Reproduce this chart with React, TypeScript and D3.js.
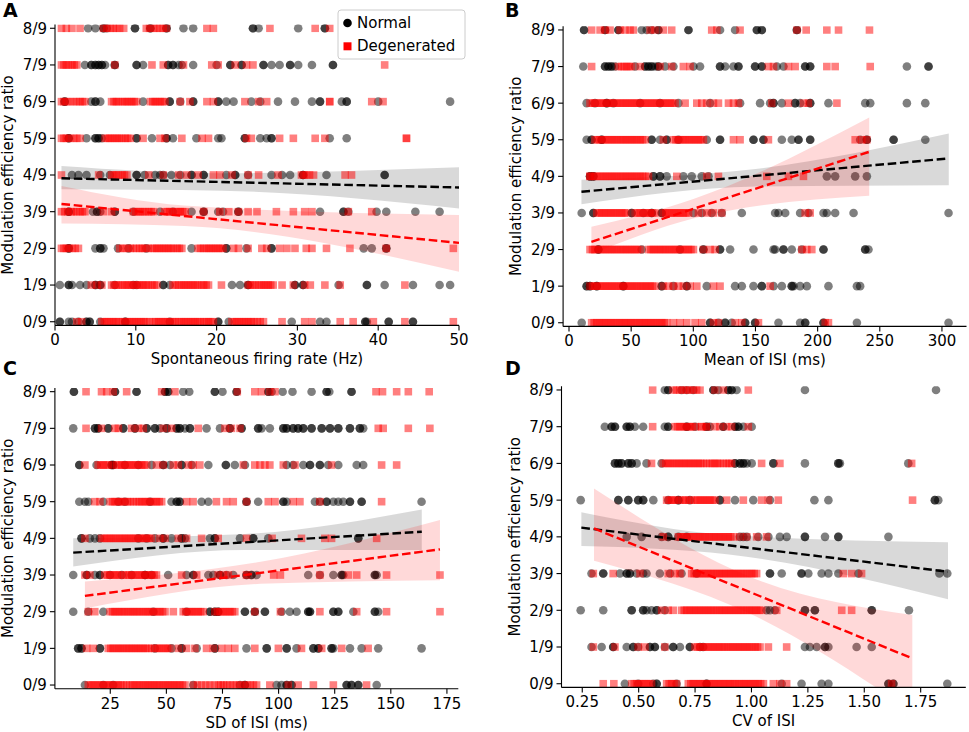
import * as d3 from "d3";

const FONT = "DejaVu Sans, Verdana, sans-serif";
const rowLabels = ["0/9", "1/9", "2/9", "3/9", "4/9", "5/9", "6/9", "7/9", "8/9"];

// ---- panel A: spontaneous firing rate (Hz), one array per ratio row 0/9 .. 8/9
const rateNormal: number[][] = [
  [0.6, 0.6, 1.7, 2.1, 2.9, 3.9, 3.9, 4.3, 4.3, 5.6, 8.7, 8.7, 14.2, 20.2, 20.2, 21.5, 29.3, 32.8, 33.6, 38.4, 38.4, 38.6, 41.3, 41.3, 44.3, 44.3],
  [0.6, 1.7, 1.7, 2.1, 3.1, 3.9, 5.0, 5.0, 5.6, 5.6, 7.4, 9.7, 10.1, 13.4, 13.4, 14.2, 21.9, 22.9, 23.9, 23.9, 29.7, 29.7, 30.7, 30.7, 35.1, 38.6, 38.6, 40.8, 44.3, 47.6, 48.9],
  [1.7, 1.7, 5.0, 5.6, 5.6, 6.0, 7.8, 9.1, 11.3, 16.9, 21.2, 21.2, 23.7, 26.8, 26.8, 38.2, 39.2, 41.0, 41.0],
  [1.7, 1.7, 4.7, 5.2, 5.2, 5.6, 7.4, 7.4, 9.7, 13.0, 14.6, 16.9, 18.4, 18.4, 20.2, 20.8, 22.7, 22.7, 32.8, 35.7, 35.7, 36.3, 39.8, 41.0, 44.6, 47.6],
  [2.1, 2.9, 3.9, 5.6, 6.8, 10.1, 10.1, 11.1, 12.4, 13.0, 13.4, 14.4, 15.5, 16.9, 16.9, 18.4, 18.4, 21.2, 22.3, 22.3, 23.9, 26.8, 28.1, 29.1, 30.7, 30.7, 33.6, 40.8, 40.8],
  [1.7, 1.7, 3.9, 5.0, 5.0, 5.4, 5.4, 5.8, 10.1, 10.1, 12.0, 13.8, 13.8, 14.6, 17.5, 20.2, 20.6, 23.5, 23.5, 25.4, 26.2, 26.8, 26.8, 34.0, 36.1],
  [1.2, 1.2, 4.5, 5.0, 5.0, 5.6, 10.9, 14.2, 14.2, 15.5, 17.1, 17.1, 20.2, 20.2, 21.2, 22.1, 24.3, 25.4, 27.6, 29.7, 31.8, 32.8, 32.8, 35.5, 36.1, 36.1, 40.0, 48.9],
  [3.7, 4.5, 4.5, 5.0, 5.0, 5.4, 5.4, 5.8, 5.8, 6.2, 7.4, 7.4, 10.1, 10.1, 10.9, 14.0, 14.0, 14.6, 14.6, 15.3, 15.7, 17.1, 20.0, 21.7, 21.7, 23.1, 23.1, 25.8, 25.8, 26.8, 27.8, 29.1, 29.1, 30.1, 31.8, 34.4, 34.4],
  [4.1, 5.0, 6.0, 6.0, 6.4, 9.9, 9.9, 11.8, 11.8, 13.8, 13.8, 15.9, 17.1, 24.5, 24.5, 25.2, 30.1, 33.4, 33.4],
];
const rateDegen: number[][] = [
  [2.7, 3.3, 5.8, 6.1, 6.4, 6.7, 7.0, 7.3, 7.6, 7.9, 8.3, 8.6, 8.9, 9.2, 9.5, 9.8, 10.1, 10.4, 10.7, 11.0, 11.3, 11.7, 12.2, 12.5, 12.8, 13.1, 13.4, 13.7, 14.0, 14.3, 14.6, 14.9, 15.3, 15.6, 15.9, 16.2, 16.5, 16.8, 17.1, 17.4, 17.7, 18.0, 18.4, 18.7, 19.0, 19.3, 19.6, 21.9, 22.2, 22.5, 22.8, 23.1, 23.4, 23.7, 24.0, 24.3, 24.6, 25.0, 25.4, 25.8, 28.1, 30.9, 31.8, 35.3, 36.9, 39.4, 43.3, 49.3],
  [4.5, 5.2, 5.8, 7.0, 7.3, 7.6, 7.9, 8.3, 8.6, 8.9, 9.2, 9.5, 9.8, 10.1, 10.4, 10.7, 11.0, 11.3, 11.6, 12.0, 12.3, 12.6, 14.6, 14.9, 15.3, 15.6, 15.9, 16.2, 16.5, 16.8, 17.1, 17.4, 17.7, 18.1, 18.4, 18.7, 19.0, 20.6, 23.9, 24.2, 24.5, 24.8, 25.2, 25.5, 25.8, 26.1, 26.4, 26.7, 27.0, 28.1, 29.5, 30.9, 31.6, 33.4, 35.3, 43.3],
  [0.8, 1.1, 1.4, 1.7, 2.1, 2.5, 2.9, 8.0, 8.4, 8.9, 9.3, 9.7, 10.1, 10.5, 10.8, 11.1, 11.5, 12.0, 12.3, 12.6, 12.9, 13.2, 13.5, 13.8, 14.1, 14.4, 14.7, 15.1, 15.4, 15.7, 17.7, 18.0, 18.4, 18.7, 19.0, 19.3, 19.6, 19.9, 20.2, 20.5, 20.8, 22.1, 22.7, 23.9, 25.6, 26.2, 27.8, 28.7, 29.7, 31.1, 31.8, 33.6, 36.5, 41.0, 49.3],
  [0.8, 1.2, 1.6, 2.0, 2.3, 2.7, 3.1, 3.4, 3.7, 6.0, 7.0, 9.7, 10.0, 10.3, 10.6, 10.9, 11.2, 11.6, 11.9, 12.2, 13.6, 13.9, 14.2, 14.5, 14.9, 15.2, 15.5, 15.8, 16.1, 18.4, 20.4, 21.5, 22.7, 23.9, 25.0, 27.4, 29.5, 30.9, 31.8, 36.3, 39.2],
  [0.8, 5.4, 7.0, 7.3, 7.6, 7.9, 8.3, 8.6, 8.9, 11.6, 13.4, 15.3, 16.3, 17.7, 19.6, 20.4, 21.9, 23.9, 25.2, 27.6, 30.5, 30.8, 31.1, 31.5, 32.0, 35.9, 36.7],
  [0.8, 1.1, 1.4, 1.8, 2.3, 2.7, 3.1, 6.2, 6.5, 6.8, 7.1, 7.4, 7.7, 8.0, 8.3, 8.7, 9.0, 9.3, 10.9, 13.0, 13.6, 15.7, 18.2, 19.0, 23.7, 24.3, 27.8, 29.5, 32.2, 33.4, 43.5, 43.5],
  [0.8, 1.1, 1.4, 1.8, 2.3, 2.7, 3.1, 3.4, 3.7, 7.0, 7.3, 7.6, 7.9, 8.3, 8.6, 8.9, 9.2, 9.5, 9.8, 10.1, 11.8, 12.1, 12.4, 12.7, 13.0, 13.3, 13.6, 15.5, 16.7, 18.8, 19.6, 23.5, 25.2, 26.2, 34.0, 34.0, 39.2, 40.6],
  [0.8, 1.1, 1.4, 1.7, 2.1, 2.4, 2.7, 7.4, 12.0, 13.4, 15.9, 19.4, 20.2, 22.3, 23.7, 24.5, 40.8],
  [0.8, 1.4, 2.1, 3.1, 6.0, 6.4, 6.8, 7.2, 7.6, 8.0, 8.5, 11.3, 11.7, 12.2, 12.6, 13.0, 13.4, 13.8, 18.8, 19.6, 26.6, 32.2, 34.0],
];

// ---- panel B: mean of ISI (ms)
const meanNormal: number[][] = [
  [10.2, 113.5, 113.5, 120.2, 125.6, 125.6, 130.9, 141.7, 141.7, 149.7, 149.7, 168.5, 185.9, 190.0, 190.0, 204.7, 204.7, 231.6, 305.3],
  [14.2, 14.2, 16.9, 16.9, 22.3, 22.3, 43.7, 43.7, 74.6, 74.6, 84.0, 94.7, 94.7, 110.8, 133.6, 139.0, 148.4, 155.1, 155.1, 164.5, 171.2, 179.2, 179.2, 180.6, 185.9, 191.3, 208.7, 231.6, 234.2],
  [23.6, 23.6, 58.5, 89.3, 108.1, 108.1, 121.5, 121.5, 129.6, 148.4, 164.5, 165.8, 172.5, 172.5, 179.2, 187.3, 204.7, 204.7, 238.3, 238.3, 240.9],
  [10.2, 19.6, 19.6, 50.4, 50.4, 59.8, 66.5, 66.5, 74.6, 74.6, 100.1, 106.8, 114.8, 122.9, 139.0, 165.8, 168.5, 173.9, 185.9, 192.6, 204.7, 207.4, 214.1, 228.9, 305.3],
  [16.9, 16.9, 19.6, 19.6, 67.9, 67.9, 73.2, 73.2, 78.6, 92.0, 98.7, 106.8, 112.2, 207.4, 214.1, 230.2, 239.6],
  [14.2, 18.2, 18.2, 26.3, 26.3, 66.5, 66.5, 73.2, 78.6, 78.6, 88.0, 110.8, 121.5, 121.5, 148.4, 148.4, 156.4, 156.4, 171.2, 179.2, 184.6, 184.6, 194.0, 194.0, 234.2, 239.6, 239.6, 261.1, 261.1, 286.6],
  [14.2, 20.9, 30.3, 30.3, 35.7, 57.2, 73.2, 88.0, 113.5, 137.6, 153.7, 161.8, 164.5, 164.5, 171.2, 181.9, 181.9, 185.9, 194.0, 194.0, 208.7, 238.3, 242.3, 271.8, 286.6],
  [11.5, 29.0, 29.0, 31.7, 31.7, 34.3, 34.3, 37.0, 53.1, 61.2, 61.2, 63.9, 63.9, 66.5, 66.5, 69.2, 71.9, 71.9, 77.3, 84.0, 100.1, 105.4, 121.5, 121.5, 125.6, 132.3, 136.3, 136.3, 149.7, 149.7, 155.1, 155.1, 167.2, 172.5, 190.0, 190.0, 194.0, 194.0, 271.8, 289.2, 289.2],
  [12.1, 12.1, 29.0, 29.0, 39.7, 39.7, 58.5, 62.5, 66.5, 71.9, 71.9, 96.1, 96.1, 121.5, 133.6, 151.1, 151.1, 155.1, 155.1, 183.3, 183.3],
];
const meanDegen: number[][] = [
  [18.2, 20.2, 22.3, 24.3, 26.3, 28.3, 30.3, 32.3, 34.3, 36.3, 38.4, 40.4, 42.4, 44.4, 46.4, 48.4, 50.4, 52.4, 54.5, 56.5, 58.5, 60.5, 62.5, 64.5, 66.5, 68.5, 70.6, 72.6, 74.6, 76.6, 78.6, 84.0, 89.3, 94.7, 101.4, 106.8, 116.2, 120.2, 133.6, 139.0, 152.4, 206.1, 208.7],
  [16.9, 18.9, 20.9, 22.9, 25.0, 27.0, 29.0, 31.0, 33.0, 35.0, 37.0, 39.0, 41.1, 43.1, 45.1, 47.1, 49.1, 51.1, 53.1, 55.1, 57.2, 59.2, 61.2, 63.2, 65.2, 67.2, 69.2, 75.9, 80.0, 84.0, 88.0, 92.0, 97.4, 102.8, 116.2, 121.5, 161.8],
  [16.9, 18.9, 20.9, 22.9, 25.0, 27.0, 29.0, 31.0, 33.0, 35.0, 37.0, 39.0, 41.1, 43.1, 45.1, 47.1, 49.1, 51.1, 53.1, 55.1, 57.2, 63.9, 65.9, 67.9, 69.9, 71.9, 73.9, 75.9, 77.9, 80.0, 82.0, 84.0, 86.0, 88.0, 90.0, 92.0, 94.0, 96.1, 98.1, 100.1, 108.1, 113.5, 117.5, 187.3, 191.3, 195.3],
  [22.3, 24.3, 26.3, 28.3, 30.3, 32.3, 34.3, 36.3, 38.4, 40.4, 42.4, 44.4, 46.4, 53.1, 55.1, 57.2, 59.2, 61.2, 63.2, 65.2, 67.2, 69.2, 75.9, 77.9, 80.0, 82.0, 84.0, 86.0, 88.0, 90.0, 92.0, 94.0, 96.1, 104.1, 110.8, 116.2, 122.9, 190.0, 194.0],
  [16.9, 16.9, 18.9, 20.9, 22.9, 25.0, 27.0, 29.0, 31.0, 33.0, 35.0, 37.0, 39.0, 41.1, 43.1, 45.1, 47.1, 49.1, 51.1, 53.1, 55.1, 57.2, 59.2, 61.2, 63.9, 86.7, 110.8, 120.2, 159.1, 176.5, 188.6],
  [20.9, 22.9, 25.0, 27.0, 29.0, 31.0, 33.0, 35.0, 37.0, 39.0, 41.1, 43.1, 45.1, 47.1, 49.1, 51.1, 53.1, 55.1, 57.2, 59.2, 61.2, 75.9, 84.0, 86.0, 88.0, 90.0, 92.0, 94.0, 96.1, 98.1, 100.1, 102.1, 104.1, 106.1, 108.1, 132.3, 137.6, 160.4, 230.2, 235.6, 239.6],
  [16.9, 18.9, 20.9, 22.9, 25.0, 27.0, 29.0, 31.0, 33.0, 35.0, 37.0, 39.0, 41.1, 43.1, 45.1, 47.1, 49.1, 51.1, 53.1, 55.1, 57.2, 59.2, 61.2, 63.2, 65.2, 67.2, 69.2, 71.2, 73.2, 75.3, 77.3, 79.3, 81.3, 83.3, 85.3, 93.4, 102.8, 106.8, 110.8, 116.2, 120.2, 128.3, 132.3, 136.3, 163.1, 176.5, 188.6, 192.6, 215.5],
  [18.2, 39.7, 42.4, 44.4, 46.4, 48.4, 50.4, 57.2, 73.2, 82.6, 92.0, 97.4, 160.4, 164.5, 176.5, 181.9, 207.4, 214.1, 242.3],
  [18.2, 25.0, 29.0, 33.0, 41.1, 45.1, 49.1, 51.8, 65.2, 69.2, 75.9, 82.6, 114.8, 118.9, 137.6, 183.3, 190.8, 207.4, 216.8, 241.7],
];

// ---- panel C: SD of ISI (ms)
const sdNormal: number[][] = [
  [13.7, 21.9, 26.3, 62.0, 82.8, 85.0, 85.0, 99.1, 101.3, 103.6, 103.6, 105.8, 105.8, 130.3, 130.3, 132.5, 132.5, 135.5, 135.5, 143.7],
  [10.7, 10.7, 12.2, 12.2, 20.4, 20.4, 44.9, 52.3, 56.8, 56.8, 63.5, 71.6, 71.6, 85.7, 94.7, 94.7, 103.6, 103.6, 108.0, 115.5, 115.5, 117.7, 117.7, 123.6, 123.6, 124.4, 131.8, 137.0, 144.4, 163.7],
  [8.5, 15.2, 21.9, 44.2, 59.0, 69.4, 69.4, 71.6, 71.6, 73.1, 73.1, 85.0, 85.0, 89.4, 89.4, 93.9, 93.9, 101.3, 105.0, 108.0, 113.2, 113.2, 114.0, 114.0, 124.4, 124.4, 126.6, 126.6, 133.3, 142.9, 142.9, 144.4],
  [8.5, 14.5, 14.5, 18.2, 20.4, 20.4, 24.9, 30.1, 34.5, 40.5, 40.5, 43.4, 50.8, 59.0, 62.0, 62.0, 68.7, 70.9, 73.9, 73.9, 76.8, 79.8, 85.7, 85.7, 87.9, 87.9, 90.2, 113.2, 118.4, 124.4, 128.1, 128.1, 128.8, 142.9, 142.9, 143.7],
  [12.2, 12.2, 15.9, 18.2, 20.4, 37.5, 41.2, 44.9, 48.6, 48.6, 52.3, 56.8, 56.8, 58.3, 69.4, 71.6, 71.6, 82.8, 88.7, 88.7, 95.4, 135.5, 135.5],
  [11.2, 13.7, 15.2, 21.9, 28.6, 31.5, 42.7, 52.3, 54.6, 54.6, 56.0, 56.0, 65.7, 68.7, 85.7, 85.7, 90.9, 102.1, 102.1, 103.6, 116.2, 118.4, 121.4, 121.4, 124.4, 126.6, 128.8, 131.8, 131.8, 137.0, 137.0, 163.7],
  [11.2, 11.2, 18.9, 25.6, 25.6, 26.3, 26.3, 31.5, 37.5, 43.4, 48.6, 48.6, 51.6, 56.8, 56.8, 61.3, 68.7, 76.5, 76.5, 80.5, 85.0, 103.6, 106.5, 111.0, 114.0, 114.0, 118.4, 118.4, 122.1, 126.6, 134.8, 137.7],
  [8.5, 18.2, 18.2, 19.6, 19.6, 24.1, 24.1, 30.8, 30.8, 36.0, 36.0, 41.2, 41.2, 44.9, 44.9, 47.1, 50.1, 50.1, 54.6, 54.6, 56.0, 56.0, 58.3, 60.5, 60.5, 67.9, 73.9, 78.3, 78.3, 83.5, 83.5, 90.9, 90.9, 92.4, 96.1, 102.1, 102.1, 103.6, 103.6, 106.5, 106.5, 108.7, 108.7, 111.0, 111.0, 114.7, 114.7, 119.2, 119.2, 122.9, 122.9, 126.6, 126.6, 131.8, 131.8, 136.2, 136.2, 137.7],
  [8.8, 8.8, 27.1, 27.1, 36.7, 36.7, 49.4, 49.4, 50.8, 50.8, 57.5, 60.2, 71.6, 71.6, 75.0, 81.3, 81.3, 95.4, 95.4, 96.9, 101.8, 106.2, 114.7, 121.4, 121.4, 122.6, 132.5, 132.5],
];
const sdDegen: number[][] = [
  [15.2, 16.3, 17.4, 18.5, 19.6, 20.8, 21.9, 23.0, 24.1, 25.2, 26.3, 27.5, 28.6, 29.7, 30.8, 32.3, 33.8, 34.9, 36.0, 37.1, 38.2, 39.4, 40.5, 41.6, 42.7, 43.8, 44.9, 46.0, 47.1, 48.3, 49.4, 50.5, 51.6, 52.7, 53.8, 54.9, 56.0, 57.2, 58.3, 62.0, 63.9, 65.7, 67.6, 69.4, 71.3, 73.1, 74.3, 75.4, 76.9, 78.3, 79.8, 81.3, 82.8, 84.3, 85.8, 87.3, 88.8, 90.2, 96.1, 104.3, 108.7, 115.5, 124.4, 139.2],
  [14.5, 17.4, 24.1, 25.2, 26.3, 27.5, 28.6, 29.7, 30.8, 32.0, 33.1, 34.2, 35.3, 36.4, 37.5, 38.6, 39.7, 40.8, 41.9, 43.4, 44.9, 46.0, 47.1, 48.3, 49.4, 50.5, 51.6, 55.3, 59.0, 62.7, 67.9, 70.9, 74.6, 77.6, 80.5, 89.4, 99.9, 110.2, 119.2, 128.1, 139.9],
  [15.2, 18.1, 24.9, 26.0, 27.1, 28.2, 29.3, 30.4, 31.5, 32.7, 33.8, 34.9, 36.0, 37.1, 38.2, 39.4, 40.5, 41.6, 42.7, 43.8, 44.9, 46.0, 47.1, 48.3, 49.4, 53.1, 57.5, 58.6, 59.8, 60.9, 61.9, 63.1, 64.2, 65.3, 66.4, 71.6, 72.8, 73.9, 75.0, 76.1, 77.2, 78.3, 79.4, 80.5, 89.4, 100.8, 118.4, 134.8, 148.1, 171.9],
  [13.7, 15.9, 22.6, 23.8, 24.9, 26.0, 27.1, 28.2, 29.3, 30.8, 32.3, 33.4, 34.5, 35.6, 36.7, 37.9, 39.0, 40.1, 41.2, 42.3, 43.4, 44.5, 45.6, 56.8, 63.5, 73.1, 75.4, 77.6, 85.7, 97.8, 100.8, 118.4, 131.1, 134.8, 148.1, 171.9],
  [13.7, 21.1, 22.3, 23.4, 24.5, 25.6, 26.7, 27.8, 29.0, 30.1, 31.2, 32.3, 33.4, 34.5, 35.6, 36.7, 37.9, 39.0, 40.1, 41.2, 42.3, 43.4, 47.1, 49.4, 55.3, 59.0, 65.7, 73.1, 85.7, 97.1, 110.2, 120.6, 123.6, 143.7],
  [18.1, 20.4, 24.9, 26.0, 27.1, 28.2, 29.3, 30.4, 31.5, 32.7, 33.8, 35.3, 36.7, 37.9, 39.0, 40.1, 41.2, 42.3, 43.4, 44.5, 45.6, 46.8, 47.9, 59.0, 61.9, 72.3, 76.8, 79.8, 85.7, 95.4, 98.4, 106.5, 109.5, 118.4, 145.9],
  [13.7, 19.6, 20.8, 21.9, 23.0, 24.1, 26.0, 27.8, 29.0, 30.1, 31.2, 32.3, 33.4, 34.5, 35.6, 36.7, 37.9, 39.0, 40.1, 41.2, 45.6, 48.6, 53.1, 55.3, 59.8, 61.9, 64.9, 84.3, 89.4, 91.7, 93.9, 96.1, 102.1, 107.3, 123.6, 145.9, 152.6],
  [14.2, 21.1, 27.1, 28.6, 34.5, 37.5, 39.7, 48.6, 52.3, 64.2, 76.1, 79.0, 82.8, 144.4, 146.6, 157.8, 167.4],
  [14.2, 21.1, 23.4, 26.3, 32.3, 47.9, 53.8, 81.6, 89.4, 92.4, 96.1, 98.4, 143.4, 146.3, 152.6, 157.8, 167.1],
];

// ---- panel D: CV of ISI
const cvNormal: number[][] = [
  [0.439, 0.498, 0.565, 0.58, 0.58, 0.668, 0.801, 0.801, 1.134, 1.222, 1.311, 1.341, 1.607, 1.607, 1.629, 1.629, 1.868],
  [0.291, 0.336, 0.387, 0.387, 0.447, 0.476, 0.476, 0.498, 0.55, 0.55, 0.572, 0.572, 0.616, 0.653, 0.653, 0.683, 0.727, 0.727, 0.772, 0.786, 1.237, 1.259, 1.289, 1.326, 1.326, 1.341, 1.466, 1.533],
  [0.243, 0.343, 0.469, 0.469, 0.52, 0.52, 0.535, 0.557, 0.58, 0.58, 0.616, 1.067, 1.082, 1.104, 1.237, 1.237, 1.281, 1.281, 1.533, 1.533, 1.698],
  [0.291, 0.343, 0.343, 0.417, 0.447, 0.447, 0.461, 0.461, 0.491, 0.52, 0.535, 0.594, 0.639, 0.69, 0.757, 1.082, 1.082, 1.134, 1.222, 1.222, 1.252, 1.311, 1.341, 1.385, 1.474, 1.833, 1.868],
  [0.447, 0.513, 0.602, 0.631, 0.631, 0.676, 0.713, 0.949, 0.964, 0.979, 1.03, 1.075, 1.126, 1.156, 1.237, 1.237, 1.326, 1.385, 1.385, 1.607],
  [0.243, 0.41, 0.41, 0.454, 0.454, 0.498, 0.498, 0.52, 0.52, 0.565, 0.631, 0.676, 0.676, 0.727, 0.86, 0.86, 0.927, 1.008, 1.082, 1.279, 1.341, 1.813, 1.813, 1.828],
  [0.395, 0.395, 0.41, 0.41, 0.424, 0.424, 0.454, 0.454, 0.469, 0.469, 0.491, 0.535, 0.602, 0.927, 0.927, 0.949, 0.949, 0.964, 0.964, 0.979, 1.001, 1.097, 1.097, 1.237, 1.385, 1.385, 1.392, 1.695],
  [0.35, 0.38, 0.38, 0.395, 0.395, 0.447, 0.447, 0.461, 0.461, 0.483, 0.52, 0.616, 0.631, 0.631, 0.713, 0.713, 0.75, 0.801, 0.801, 0.816, 0.875, 0.875, 0.927, 0.927, 0.942, 0.942, 0.964, 1.001],
  [0.616, 0.631, 0.631, 0.69, 0.713, 0.742, 0.831, 0.831, 0.853, 0.897, 0.897, 0.912, 0.912, 0.934, 1.237, 1.818],
];
const cvDegen: number[][] = [
  [0.343, 0.39, 0.469, 0.48, 0.491, 0.502, 0.513, 0.524, 0.535, 0.546, 0.557, 0.624, 0.635, 0.646, 0.657, 0.668, 0.72, 0.731, 0.742, 0.753, 0.764, 0.775, 0.786, 0.797, 0.809, 0.82, 0.831, 0.842, 0.853, 0.864, 0.875, 0.886, 0.897, 0.908, 0.919, 0.93, 0.942, 0.953, 0.964, 0.975, 0.986, 0.997, 1.008, 1.019, 1.03, 1.041, 1.053, 1.097, 1.126, 1.156, 1.621],
  [0.299, 0.395, 0.498, 0.528, 0.616, 0.75, 0.761, 0.772, 0.783, 0.794, 0.805, 0.816, 0.827, 0.838, 0.849, 0.86, 0.871, 0.882, 0.894, 0.905, 0.916, 0.927, 0.938, 0.949, 0.96, 0.971, 0.982, 0.993, 1.004, 1.016, 1.027, 1.038, 1.075, 1.156],
  [0.602, 0.631, 0.653, 0.69, 0.702, 0.713, 0.724, 0.735, 0.746, 0.757, 0.768, 0.779, 0.79, 0.801, 0.812, 0.823, 0.834, 0.846, 0.857, 0.868, 0.879, 0.89, 0.901, 0.912, 0.923, 0.934, 0.945, 0.956, 0.967, 0.979, 0.99, 1.001, 1.012, 1.023, 1.034, 1.045, 1.112, 1.4, 1.444],
  [0.299, 0.387, 0.506, 0.631, 0.661, 0.683, 0.735, 0.746, 0.757, 0.768, 0.779, 0.79, 0.801, 0.812, 0.823, 0.834, 0.846, 0.857, 0.868, 0.879, 0.89, 0.901, 0.912, 0.923, 0.934, 0.945, 0.956, 0.967, 0.979, 0.99, 1.001, 1.012, 1.023, 1.407, 1.444, 1.488],
  [0.609, 0.676, 0.687, 0.698, 0.709, 0.72, 0.731, 0.742, 0.753, 0.764, 0.775, 0.786, 0.797, 0.809, 0.82, 0.831, 0.842, 0.853, 0.864, 0.875, 0.886, 0.897, 0.908, 0.919, 0.949, 0.979, 1.023, 1.067],
  [0.624, 0.635, 0.646, 0.657, 0.668, 0.683, 0.698, 0.709, 0.72, 0.735, 0.75, 0.761, 0.772, 0.783, 0.794, 0.805, 0.816, 0.827, 0.838, 0.89, 0.964, 1.045, 1.075, 1.119, 1.714],
  [0.557, 0.609, 0.62, 0.631, 0.642, 0.653, 0.665, 0.676, 0.687, 0.698, 0.709, 0.72, 0.731, 0.742, 0.753, 0.764, 0.775, 0.786, 0.801, 0.816, 0.827, 0.838, 0.849, 0.86, 0.875, 0.89, 0.901, 0.912, 1.045, 1.126, 1.71],
  [0.562, 0.661, 0.672, 0.683, 0.694, 0.705, 0.716, 0.727, 0.738, 0.75, 0.779, 0.779, 0.801, 0.801, 0.838, 0.86, 0.89, 0.912, 0.986],
  [0.562, 0.653, 0.668, 0.683, 0.698, 0.713, 0.727, 0.742, 0.757, 0.772, 0.838, 0.875, 0.986],
];

// regression fits (in ninths): [x, y] at the ends; bands: [x, low, high]
const rateFitN = [[0.8, 3.91], [50, 3.66]];
const rateFitD = [[0.8, 3.21], [50, 2.15]];
const rateBandN = [[0.8, 3.61, 4.245], [20.6, 3.57, 4.05], [50, 3.09, 4.21]];
const rateBandD = [[0.8, 2.68, 3.7], [16, 2.61, 3.17], [50, 1.36, 2.91]];

const meanFitN = [[10, 3.58], [305.5, 4.49]];
const meanFitD = [[18, 2.21], [241.5, 4.67]];
const meanBandN = [[10, 3.24, 3.91], [150, 3.72, 4.2], [305.5, 3.76, 5.17]];
const meanBandD = [[18, 1.88, 2.62], [100, 2.85, 3.38], [241.5, 3.47, 5.61]];

const sdFitN = [[8.5, 3.61], [163.8, 4.18]];
const sdFitD = [[13.7, 2.43], [171.9, 3.7]];
const sdBandN = [[8.5, 3.23, 4.0], [85, 3.68, 4.12], [163.8, 3.68, 4.79]];
const sdBandD = [[13.7, 2.09, 2.82], [92, 2.76, 3.36], [171.9, 2.86, 4.5]];

const cvFitN = [[0.246, 4.25], [1.871, 3.05]];
const cvFitD = [[0.302, 4.23], [1.713, 0.69]];
const cvBandN = [[0.246, 3.75, 4.67], [0.9, 3.52, 4.05], [1.871, 2.3, 3.85]];
const cvBandD = [[0.302, 3.35, 5.32], [0.99, 1.92, 2.92], [1.713, -0.76, 1.87]];

function Panel({ id, letter, lx, ly, px, py, xDomain, xTicks, fmt, xLabel, normal, degen, fitN, fitD, bandN, bandD, legend }) {
  const x = d3.scaleLinear(xDomain, px);
  const y = d3.scaleLinear([-0.1, 8.1], py);
  const area = d3.area().x(d => x(d[0])).y0(d => y(d[1])).y1(d => y(d[2])).curve(d3.curveMonotoneX);
  const line = d3.line().x(d => x(d[0])).y(d => y(d[1]));
  const [x0, x1] = px;
  const [yb, yt] = py;
  const dash = "8.6 3.7";
  const sq = 7.6;
  return (
    <g fontFamily={FONT}>
      <defs>
        <clipPath id={"clip-" + id}>
          <rect x={x0} y={yt} width={x1 - x0} height={yb - yt} />
        </clipPath>
      </defs>
      <g clipPath={`url(#clip-${id})`}>
        {normal.map((row, r) => row.map((v, i) => (
          <circle key={`n${r}-${i}`} cx={x(v)} cy={y(r)} r={4.3} fill="#000" fillOpacity={0.5} />
        )))}
        <path d={area(bandN)} fill="#000" fillOpacity={0.15} />
        {degen.map((row, r) => row.map((v, i) => (
          <rect key={`d${r}-${i}`} x={x(v) - sq / 2} y={y(r) - sq / 2} width={sq} height={sq} fill="#ff0000" fillOpacity={0.5} />
        )))}
        <path d={area(bandD)} fill="#ff0000" fillOpacity={0.15} />
        <path d={line(fitN)} fill="none" stroke="#000" strokeWidth={2.4} strokeDasharray={dash} />
        <path d={line(fitD)} fill="none" stroke="#ff0000" strokeWidth={2.4} strokeDasharray={dash} />
      </g>
      <line x1={x0} x2={x0} y1={yt} y2={yb} stroke="#000" strokeWidth={1.1} />
      <line x1={x0} x2={x1} y1={yb} y2={yb} stroke="#000" strokeWidth={1.1} />
      {rowLabels.map((lab, r) => (
        <g key={lab}>
          <line x1={x0 - 5} x2={x0} y1={y(r)} y2={y(r)} stroke="#000" strokeWidth={1.1} />
          <text x={x0 - 8} y={y(r)} dy="0.36em" textAnchor="end" fontSize={15}>{lab}</text>
        </g>
      ))}
      {xTicks.map(t => (
        <g key={t}>
          <line x1={x(t)} x2={x(t)} y1={yb} y2={yb + 5} stroke="#000" strokeWidth={1.1} />
          <text x={x(t)} y={yb + 20} textAnchor="middle" fontSize={15}>{fmt(t)}</text>
        </g>
      ))}
      <text x={(x0 + x1) / 2} y={yb + 39} textAnchor="middle" fontSize={15}>{xLabel}</text>
      <text transform={`translate(${x0 - 42},${(yt + yb) / 2}) rotate(-90)`} textAnchor="middle" fontSize={15}>
        Modulation efficiency ratio
      </text>
      <text x={lx} y={ly} fontSize={19} fontWeight="bold">{letter}</text>
      {legend && (
        <g>
          <rect x={338} y={10} width={127} height={49} rx={3} fill="#fff" fillOpacity={0.8} stroke="#cccccc" />
          <circle cx={347.5} cy={23} r={4.3} fill="#000" />
          <text x={357} y={28.2} fontSize={15}>Normal</text>
          <rect x={343.5} y={42.3} width={8} height={8} fill="#ff0000" />
          <text x={357} y={51} fontSize={15}>Degenerated</text>
        </g>
      )}
    </g>
  );
}

export default function App() {
  const f0 = d3.format("d");
  const f2 = d3.format(".2f");
  return (
    <svg width={969} height={732} style={{ position: "absolute", left: 0, top: 0, background: "#fff" }}>
      <Panel id="a" letter="A" lx={3} ly={17} px={[55, 459]} py={[325.4, 24.6]} xDomain={[0, 50]}
        xTicks={[0, 10, 20, 30, 40, 50]} fmt={f0} xLabel="Spontaneous firing rate (Hz)"
        normal={rateNormal} degen={rateDegen} fitN={rateFitN} fitD={rateFitD} bandN={rateBandN} bandD={rateBandD} legend />
      <Panel id="b" letter="B" lx={505} ly={17} px={[563.1, 966.5]} py={[326.4, 26.3]} xDomain={[-4.75, 319.75]}
        xTicks={[0, 50, 100, 150, 200, 250, 300]} fmt={f0} xLabel="Mean of ISI (ms)"
        normal={meanNormal} degen={meanDegen} fitN={meanFitN} fitD={meanFitD} bandN={meanBandN} bandD={meanBandD} />
      <Panel id="c" letter="C" lx={3} ly={375} px={[54.9, 458.3]} py={[688.7, 388]} xDomain={[0.33, 180.07]}
        xTicks={[25, 50, 75, 100, 125, 150, 175]} fmt={f0} xLabel="SD of ISI (ms)"
        normal={sdNormal} degen={sdDegen} fitN={sdFitN} fitD={sdFitD} bandN={sdBandN} bandD={sdBandD} />
      <Panel id="d" letter="D" lx={505} ly={375} px={[561.5, 965.8]} py={[687.4, 386.3]} xDomain={[0.158, 1.95]}
        xTicks={[0.25, 0.5, 0.75, 1.0, 1.25, 1.5, 1.75]} fmt={f2} xLabel="CV of ISI"
        normal={cvNormal} degen={cvDegen} fitN={cvFitN} fitD={cvFitD} bandN={cvBandN} bandD={cvBandD} />
    </svg>
  );
}
